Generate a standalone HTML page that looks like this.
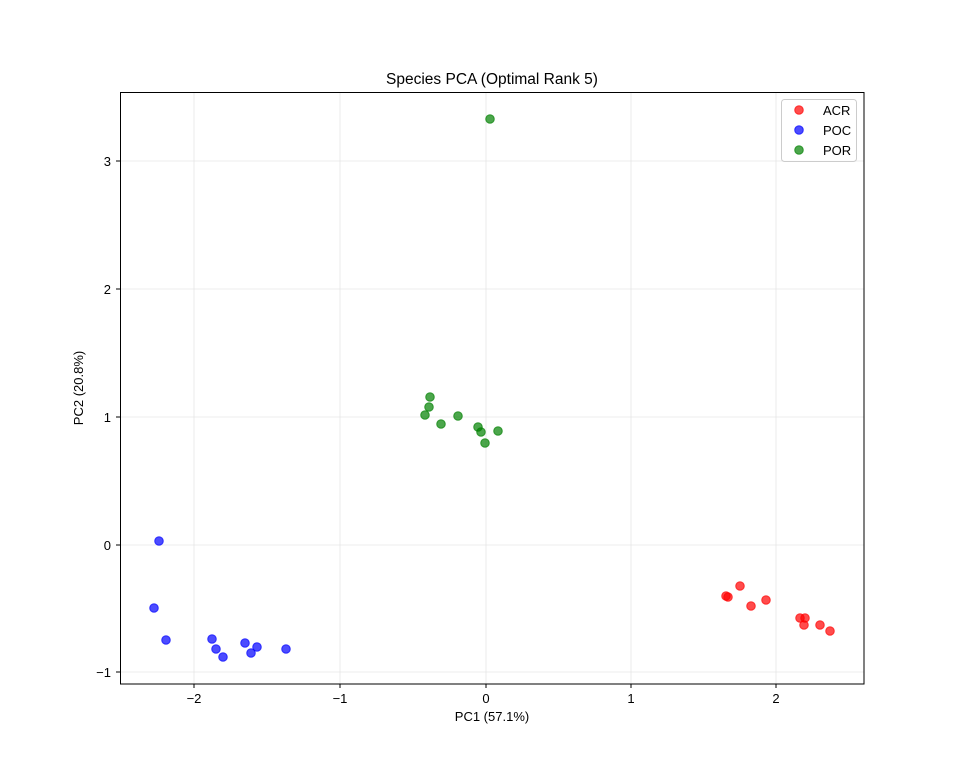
<!DOCTYPE html>
<html><head><style>
html,body{margin:0;padding:0;background:#fff;}
svg{display:block;font-family:"Liberation Sans","DejaVu Sans",sans-serif;}
</style></head><body>
<svg width="960" height="768" viewBox="0 0 960 768" xmlns="http://www.w3.org/2000/svg">
<rect width="960" height="768" fill="#fff"/>
<g stroke="#e6e6e6" stroke-width="0.8">
<line x1="194" y1="92" x2="194" y2="684"/>
<line x1="340" y1="92" x2="340" y2="684"/>
<line x1="486" y1="92" x2="486" y2="684"/>
<line x1="631" y1="92" x2="631" y2="684"/>
<line x1="776" y1="92" x2="776" y2="684"/>
<line x1="120" y1="161" x2="864" y2="161"/>
<line x1="120" y1="289" x2="864" y2="289"/>
<line x1="120" y1="417" x2="864" y2="417"/>
<line x1="120" y1="545" x2="864" y2="545"/>
<line x1="120" y1="672" x2="864" y2="672"/>
</g>
<g fill-opacity="0.7" stroke-opacity="0.7" stroke-width="1">
<g fill="#008000" stroke="#008000">
<circle cx="490" cy="119" r="4.3"/><circle cx="430" cy="397" r="4.3"/><circle cx="429" cy="407" r="4.3"/><circle cx="425" cy="415" r="4.3"/><circle cx="458" cy="416" r="4.3"/><circle cx="441" cy="424" r="4.3"/><circle cx="478" cy="427" r="4.3"/><circle cx="481" cy="432" r="4.3"/><circle cx="498" cy="431" r="4.3"/><circle cx="485" cy="443" r="4.3"/>
</g>
<g fill="#0000ff" stroke="#0000ff">
<circle cx="159" cy="541" r="4.3"/><circle cx="154" cy="608" r="4.3"/><circle cx="166" cy="640" r="4.3"/><circle cx="212" cy="639" r="4.3"/><circle cx="216" cy="649" r="4.3"/><circle cx="223" cy="657" r="4.3"/><circle cx="245" cy="643" r="4.3"/><circle cx="257" cy="647" r="4.3"/><circle cx="251" cy="653" r="4.3"/><circle cx="286" cy="649" r="4.3"/>
</g>
<g fill="#ff0000" stroke="#ff0000">
<circle cx="740" cy="586" r="4.3"/><circle cx="726" cy="596" r="4.3"/><circle cx="728" cy="597" r="4.3"/><circle cx="766" cy="600" r="4.3"/><circle cx="751" cy="606" r="4.3"/><circle cx="800" cy="618" r="4.3"/><circle cx="805" cy="618" r="4.3"/><circle cx="804" cy="625" r="4.3"/><circle cx="820" cy="625" r="4.3"/><circle cx="830" cy="631" r="4.3"/>
</g>
</g>
<rect x="120.5" y="92.5" width="743.5" height="591.5" fill="none" stroke="#000" stroke-width="1"/>
<g stroke="#000" stroke-width="1">
<line x1="194" y1="684" x2="194" y2="688"/><line x1="340" y1="684" x2="340" y2="688"/><line x1="486" y1="684" x2="486" y2="688"/><line x1="631" y1="684" x2="631" y2="688"/><line x1="776" y1="684" x2="776" y2="688"/>
<line x1="116" y1="161" x2="120" y2="161"/><line x1="116" y1="289" x2="120" y2="289"/><line x1="116" y1="417" x2="120" y2="417"/><line x1="116" y1="545" x2="120" y2="545"/><line x1="116" y1="672" x2="120" y2="672"/>
</g>
<g font-size="13" fill="#000" text-anchor="middle">
<text x="194" y="703">−2</text><text x="340" y="703">−1</text><text x="486" y="703">0</text><text x="631" y="703">1</text><text x="776" y="703">2</text>
</g>
<g font-size="13" fill="#000" text-anchor="end">
<text x="111" y="166">3</text><text x="111" y="294">2</text><text x="111" y="422">1</text><text x="111" y="550">0</text><text x="111" y="677">−1</text>
</g>
<text x="492" y="721" font-size="13" text-anchor="middle">PC1 (57.1%)</text>
<text transform="translate(83,388) rotate(-90)" font-size="13" text-anchor="middle">PC2 (20.8%)</text>
<text x="492" y="84" font-size="15.5" text-anchor="middle">Species PCA (Optimal Rank 5)</text>
<rect x="781.5" y="99.5" width="75" height="62" rx="3" fill="#fff" fill-opacity="0.8" stroke="#ccc"/>
<g fill-opacity="0.7" stroke-opacity="0.7">
<circle cx="799" cy="110" r="4.3" fill="#ff0000" stroke="#ff0000"/>
<circle cx="799" cy="130" r="4.3" fill="#0000ff" stroke="#0000ff"/>
<circle cx="799" cy="150" r="4.3" fill="#008000" stroke="#008000"/>
</g>
<g font-size="13" fill="#000">
<text x="823" y="115">ACR</text><text x="823" y="135">POC</text><text x="823" y="155">POR</text>
</g>
</svg>
</body></html>
